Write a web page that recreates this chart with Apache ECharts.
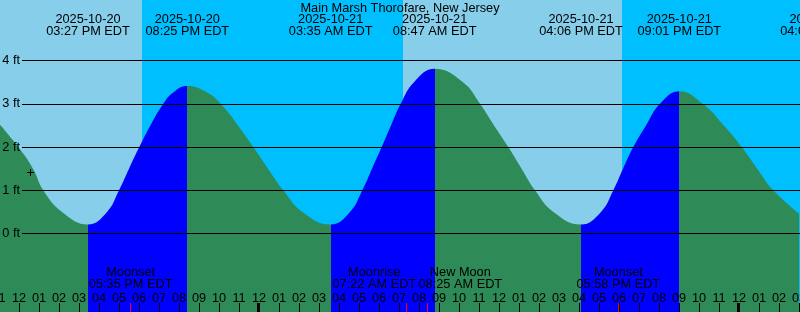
<!DOCTYPE html>
<html><head><meta charset="utf-8">
<script src="https://cdn.jsdelivr.net/npm/echarts@6/dist/echarts.min.js"></script>
<style>html,body{margin:0;padding:0;background:#87CEEB;overflow:hidden}#c{width:800px;height:312px}</style>
</head><body><div id="c"></div><script>
// ---------------- data ----------------
const stationTitle = 'Main Marsh Thorofare, New Jersey';
const tideTimes = ['2025-10-20 15:27','2025-10-20 20:25','2025-10-21 03:35','2025-10-21 08:47','2025-10-21 16:06','2025-10-21 21:01','2025-10-22 04:09'];
const tideKinds = ['low','high','low','high','low','high','low'];
// tide curve: hours from 2025-10-21 00:00 EDT, height in ft
const curveHours = [-13.05,-12.035,-11.3,-10.785,-9.85,-8.55,-7.6,-7.0,-6.5,-5.985,-5.43,-4.785,-4.32,-3.583,-2.55,-1.915,-1.05,-0.285,0.45,1.215,2.17,3.583,4.55,5.165,5.65,6.135,6.6,7.085,7.75,8.783,10.2,11.05,11.75,12.465,13.13,13.8,14.72,16.1,17.1,17.715,18.2,18.715,19.35,20.05,21.017,22.185,23.24,24.135,24.91,25.715,27.05];
const curveFeet  = [2.57,2.0,1.5,1.0,0.5,0.21,0.5,1.0,1.5,2.0,2.5,3.0,3.25,3.41,3.25,3.0,2.5,2.0,1.5,1.0,0.5,0.21,0.5,1.0,1.5,2.0,2.5,3.0,3.5,3.81,3.5,3.0,2.5,2.0,1.5,1.0,0.5,0.21,0.5,1.0,1.5,2.0,2.5,3.0,3.29,3.0,2.5,2.0,1.5,1.0,0.44];
const sunTimes = ['2025-10-20 18:09','2025-10-21 07:11','2025-10-21 18:08'];
const sunKinds = ['sunset','sunrise','sunset'];
const moonNames = ['Moonset','Moonrise','New Moon','Moonset'];
const moonTimes = ['2025-10-20 17:35','2025-10-21 07:22','2025-10-21 08:25','2025-10-21 17:58'];
const midnightTimes = ['2025-10-21 00:00','2025-10-22 00:00'];
const feetTicks = [0,1,2,3,4];
const nowTime = '2025-10-20 12:33';
const nowFeet = 1.42;
const viewStart = -13.05, viewEnd = 27.05;

// ---------------- helpers / styles ----------------
const FONT = "'Liberation Sans', Arial, sans-serif";
const FS = 12.75;
const DAY = '#87CEEB', NIGHT = '#00BFFF', GREEN = '#2E8B57', BLUE = '#0000FF';
const moonLabelShift = [0, -32, 33, 0]; // keeps overlapping labels apart
function hrs(s){const [d,hm]=s.split(' ');const [Y,M,D]=d.split('-').map(Number);const [h,m]=hm.split(':').map(Number);return (Date.UTC(Y,M-1,D,h,m)-Date.UTC(2025,9,21,0,0))/3600000;}
function clock(s){const [h,m]=s.split(' ')[1].split(':').map(Number);const ap=h<12?'AM':'PM';const h12=h%12===0?12:h%12;return String(h12).padStart(2,'0')+':'+String(m).padStart(2,'0')+' '+ap+' EDT';}

const tideH = tideTimes.map(hrs);
const pieces = []; let prev = null;
tideH.forEach((t,i)=>{const p={color: tideKinds[i]==='high'?BLUE:GREEN}; if(prev!==null)p.gte=prev; p.lt=t; pieces.push(p); prev=t;});
pieces.push({gte: prev, color: tideKinds[tideKinds.length-1]==='low'?BLUE:GREEN});

const bands = []; let bStart = viewStart; let isDay = sunKinds[0]==='sunset';
sunTimes.forEach((s,i)=>{const t=hrs(s); bands.push([bStart,t,isDay?1:0]); bStart=t; isDay = sunKinds[i]==='sunrise';});
bands.push([bStart, viewEnd, isDay?1:0]);

const txt = (x,y,text)=>({type:'text',x:x,y:y,style:{text:text,align:'center',verticalAlign:'middle',fontSize:FS,fontFamily:FONT,fill:'#000'}});

const chart = echarts.init(document.getElementById('c'), null, {renderer:'canvas'});
chart.setOption({
  animation:false,
  backgroundColor: DAY,
  title:{text:stationTitle,left:'center',top:1.5,padding:0,textStyle:{fontSize:FS,fontWeight:'normal',color:'#000',fontFamily:FONT}},
  grid:[
    {left:-1,width:800,top:-26,height:346,containLabel:false,outerBoundsMode:'none'},
    {left:22,right:0,top:60.5,height:173,containLabel:false,outerBoundsMode:'none'}
  ],
  xAxis:[
    {gridIndex:0,type:'value',min:-13,max:27,interval:1,position:'bottom',offset:-8,z:10,
     axisLine:{show:false,onZero:false},splitLine:{show:false},
     axisTick:{show:true,inside:true,length:9,lineStyle:{color:'#000',width:1}},
     axisLabel:{show:true,inside:true,margin:14,verticalAlign:'middle',hideOverlap:false,showMinLabel:true,showMaxLabel:true,
       fontSize:FS,fontFamily:FONT,color:'#000',
       formatter:v=>{const h=((Math.round(v)%12)+12)%12;return h===0?'12':String(h).padStart(2,'0');}}},
    {gridIndex:1,type:'value',min:0,max:1,show:false,axisLine:{onZero:false}}
  ],
  yAxis:[
    {gridIndex:0,type:'value',min:-2,max:6,show:false,axisLine:{onZero:false}},
    {gridIndex:1,type:'value',min:feetTicks[0],max:feetTicks[feetTicks.length-1],interval:1,z:5,
     axisLine:{show:false,onZero:false},axisTick:{show:false},
     axisLabel:{margin:2,fontSize:FS,fontFamily:FONT,color:'#000',formatter:v=>v+' ft'},
     splitLine:{show:true,lineStyle:{color:'#000',width:1}}}
  ],
  visualMap:{type:'piecewise',show:false,dimension:0,seriesIndex:1,pieces:pieces},
  series:[
    {type:'custom',name:'daylight',xAxisIndex:0,yAxisIndex:0,z:1,silent:true,clip:false,
     data:bands,
     renderItem:(p,api)=>{const a=api.coord([api.value(0),6]);const b=api.coord([api.value(1),-2]);
       const x0=Math.round(a[0]),x1=Math.round(b[0]);
       return {type:'rect',shape:{x:x0,y:a[1],width:x1-x0,height:b[1]-a[1]},style:{fill:api.value(2)?DAY:NIGHT}};}},
    {type:'line',name:'tide',xAxisIndex:0,yAxisIndex:0,z:2,smooth:0.45,showSymbol:false,symbol:'none',clip:false,silent:true,
     data:curveHours.map((t,i)=>[t,curveFeet[i]]),
     lineStyle:{width:0},areaStyle:{origin:'start',opacity:1}},
    {type:'custom',name:'tideLabels',xAxisIndex:0,yAxisIndex:0,z:20,silent:true,clip:false,
     data:tideH.map(t=>[t,0]),
     renderItem:(p,api)=>{const x=api.coord([api.value(0),0])[0];const s=tideTimes[p.dataIndex];
       return {type:'group',children:[txt(x,19.5,s.slice(0,10)),txt(x,31.5,clock(s))]};}},
    {type:'custom',name:'moonLabels',xAxisIndex:0,yAxisIndex:0,z:20,silent:true,clip:false,
     data:moonTimes.map(s=>[hrs(s),0]),
     renderItem:(p,api)=>{const x=api.coord([api.value(0),0])[0];const sx=x+moonLabelShift[p.dataIndex];
       const bottom=p.coordSys.y+p.coordSys.height-8;
       return {type:'group',children:[
         txt(sx,272.8,moonNames[p.dataIndex]),txt(sx,284.8,clock(moonTimes[p.dataIndex])),
         {type:'rect',shape:{x:Math.floor(x),y:bottom-9,width:1,height:9},style:{fill:'#FF0000'}}]};}},
    {type:'custom',name:'dayTicks',xAxisIndex:0,yAxisIndex:0,z:21,silent:true,clip:false,
     data:midnightTimes.map(s=>[hrs(s),0]),
     renderItem:(p,api)=>{const x=api.coord([api.value(0),0])[0];const bottom=p.coordSys.y+p.coordSys.height-8;
       return {type:'rect',shape:{x:Math.round(x)-2,y:bottom-9,width:2,height:9},style:{fill:'#000'}};}},
    {type:'custom',name:'now',xAxisIndex:0,yAxisIndex:0,z:21,silent:true,clip:false,
     data:[[hrs(nowTime),nowFeet]],
     renderItem:(p,api)=>{const c=api.coord([api.value(0),api.value(1)]);const x=Math.round(c[0])+0.5,y=Math.round(c[1])+0.5;
       return {type:'group',children:[
         {type:'line',shape:{x1:x-3.5,y1:y,x2:x+3.5,y2:y},style:{stroke:'#000',lineWidth:1}},
         {type:'line',shape:{x1:x,y1:y-3.5,x2:x,y2:y+3.5},style:{stroke:'#000',lineWidth:1}}]};}}
  ]
});
</script></body></html>
